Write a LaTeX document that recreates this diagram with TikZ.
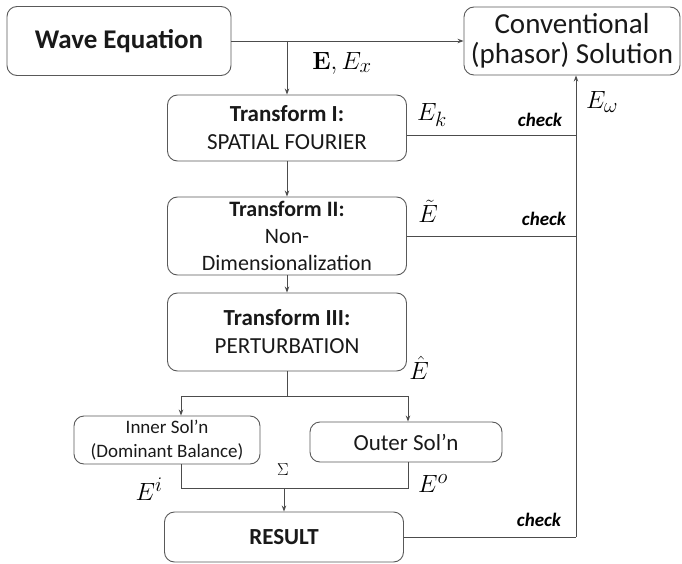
\documentclass[tikz,border=0pt]{standalone}
\usepackage[no-math]{fontspec}
\setmainfont{Carlito}
\usetikzlibrary{arrows.meta}
\begin{document}
\begin{tikzpicture}[x=1pt,y=-1pt,
  box/.style={draw=black!65,line width=0.9pt,rounded corners=10pt,inner sep=0pt,align=center,text=black!90},
  conn/.style={draw=black!70,line width=0.9pt},
  arr/.style={conn,-{Stealth[length=6pt,width=4.5pt]}},
  mlab/.style={inner sep=0pt,font=\fontsize{30}{32}\selectfont},
  chk/.style={inner sep=0pt,font=\fontsize{19}{20}\selectfont\bfseries\itshape}]
\useasboundingbox (0,0) rectangle (682,564);
% boxes
\node[box,minimum width=224pt,minimum height=69pt,font=\fontsize{27}{30}\selectfont\bfseries] (wave) at (119,41) {Wave Equation};
\node[box,minimum width=216pt,minimum height=68pt,font=\fontsize{29}{30}\selectfont] (conv) at (572,41) {Conventional\\(phasor) Solution};
\node[box,minimum width=239pt,minimum height=66pt,font=\fontsize{23}{28}\selectfont] (t1) at (287,128) {\textbf{Transform I:}\\SPATIAL FOURIER};
\node[box,minimum width=239pt,minimum height=78pt,font=\fontsize{22}{27}\selectfont] (t2) at (287,236) {\textbf{Transform II:}\\Non-\\Dimensionalization};
\node[box,minimum width=239pt,minimum height=78pt,font=\fontsize{23}{28}\selectfont] (t3) at (287,332) {\textbf{Transform III:}\\PERTURBATION};
\node[box,minimum width=186pt,minimum height=48pt,font=\fontsize{19}{24}\selectfont] (inner) at (167,440) {Inner Sol’n\\(Dominant Balance)};
\node[box,minimum width=192pt,minimum height=40pt,font=\fontsize{23}{24}\selectfont] (outer) at (406,442) {Outer Sol’n};
\node[box,minimum width=239pt,minimum height=50pt,font=\fontsize{23}{24}\selectfont\bfseries] (res) at (284,537) {RESULT};
% coordinates
\coordinate (b1) at (287,41);
\coordinate (v1) at (576,135);
\coordinate (v2) at (576,236);
\coordinate (v3) at (576,537);
\coordinate (sp) at (287,396);
\coordinate (sl) at (181,396);
\coordinate (sr) at (408,396);
\coordinate (ml) at (181,488);
\coordinate (mr) at (408,488);
\coordinate (mm) at (284,488);
% connectors
\draw[arr] (wave.east) -- (conv.west);
\draw[arr] (b1) -- (t1.north);
\draw[arr] (t1.south) -- (t2.north);
\draw[arr] (t2.south) -- (t3.north);
\draw[conn] (v1 -| t1.east) -- (v1);
\draw[conn] (t2.east) -- (v2);
\draw[conn] (res.east) -- (v3);
\draw[arr] (v3) -- (v3 |- conv.south);
\draw[conn] (t3.south) -- (sp);
\draw[conn] (sl) -- (sr);
\draw[arr] (sl) -- (sl |- inner.north);
\draw[arr] (sr) -- (sr |- outer.north);
\draw[conn] (ml |- inner.south) -- (ml) -- (mr) -- (mr |- outer.south);
\draw[arr] (mm) -- (mm |- res.north);
% labels
\node[mlab] (lex) at (342,63) {$\mathbf{E}, E_x$};
\node[mlab] (lek) at (432,115) {$E_k$};
\node[mlab] (let) at (428,211) {$\tilde{E}$};
\node[mlab] (leh) at (419,368) {$\hat{E}$};
\node[mlab] (lew) at (602,102) {$E_\omega$};
\node[mlab] (lei) at (149,489) {$E^i$};
\node[mlab] (leo) at (433,484) {$E^o$};
\node[inner sep=0pt,font=\fontsize{18}{19}\selectfont] (sig) at (283,470) {$\Sigma$};
\node[chk] (c1) at (540,120) {check};
\node[chk] (c2) at (544,219) {check};
\node[chk] (c3) at (539,520) {check};
\end{tikzpicture}
\end{document}
